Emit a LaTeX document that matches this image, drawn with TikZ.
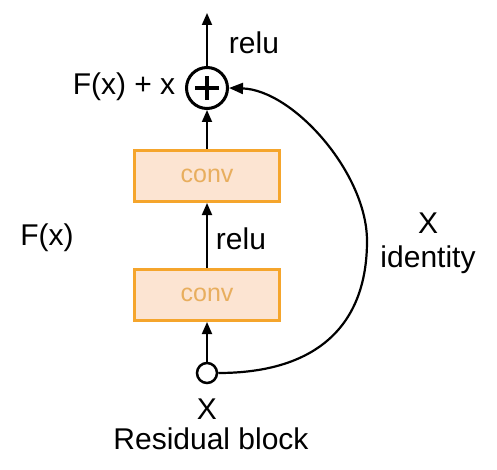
\documentclass[tikz,border=0pt]{standalone}
\usepackage{fontspec}
\setmainfont{Liberation Sans}
\usetikzlibrary{arrows.meta}
\definecolor{convfill}{HTML}{FCE4D2}
\definecolor{convline}{HTML}{F5A52C}
\definecolor{convtext}{HTML}{E8AE5E}
\begin{document}
\begin{tikzpicture}[x=1pt,y=-1pt,
		lbl/.style={font=\fontsize{30}{34}\selectfont, inner sep=0pt},
		convbox/.style={draw=convline, fill=convfill, line width=3pt, minimum width=145pt, minimum height=51pt, inner sep=0pt, text=convtext, font=\fontsize{25}{30}\selectfont},
		flow/.style={line width=1.8pt, -{Triangle[length=12pt,width=10pt]}}]
		\useasboundingbox (0,0) rectangle (497,470);
		
		\node [convbox] (conv2) at (207,176) {conv};
		\node [convbox] (conv1) at (207,295) {conv};
		
		\node [draw, circle, line width=3pt, minimum size=41pt, inner sep=0pt] (sum) at (207,88) {};
		\draw [line width=4pt] ([xshift=-12pt]sum.center) -- ([xshift=12pt]sum.center);
		\draw [line width=4pt] ([yshift=-12pt]sum.center) -- ([yshift=12pt]sum.center);
		
		\node [draw, circle, line width=2.5pt, minimum size=20pt, inner sep=0pt] (in) at (207,373) {};
		\coordinate (out) at (207,13);
		\coordinate (bend) at (367,241);
		
		\draw [flow] (in) -- (conv1);
		\draw [flow] (conv1) -- (conv2);
		\draw [flow] (conv2) -- (sum);
		\draw [flow] (sum) -- (out);
		\draw [line width=2.2pt, -{Triangle[length=14pt,width=11pt]}] (in.east) .. controls (315,373) and (367,327) .. (bend)
			.. controls (367,173) and (293,90) .. (sum.east);
		
		\node [lbl] (relutop) at (254,43) {relu};
		\node [lbl] (relumid) at (241,239) {relu};
		\node [lbl] (fxx) at (124,87) {F(x) + x};
		\node [lbl] (fx) at (47,238) {F(x)};
		\node [lbl, align=center] (ident) at (428,243) {X\\identity};
		\node [lbl] (xin) at (207,409) {X};
		\node [lbl] (title) at (211,439) {Residual block};
	\end{tikzpicture}
\end{document}
